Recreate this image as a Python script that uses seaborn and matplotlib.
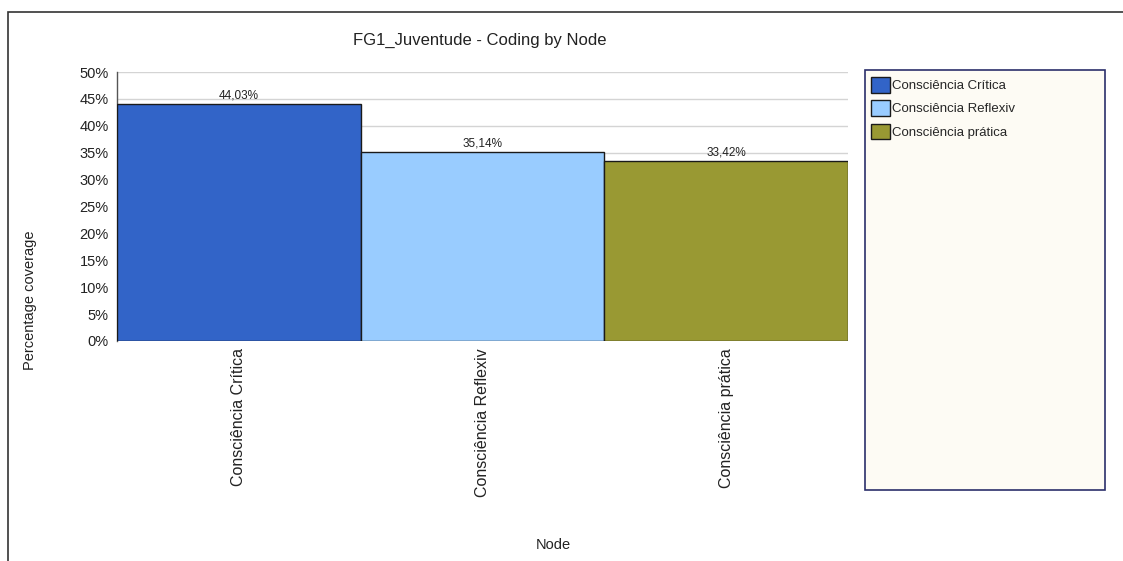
import matplotlib
matplotlib.use("Agg")
import matplotlib.pyplot as plt
from matplotlib.patches import Rectangle, Patch
from matplotlib.ticker import FuncFormatter, MultipleLocator
import seaborn as sns
import pandas as pd

nodes = ["Consciência Crítica", "Consciência Reflexiv", "Consciência prática"]
coverage = [44.03, 35.14, 33.42]
colors = ["#3264C8", "#99CCFF", "#999933"]

sns.set_theme(style="white")
plt.rcParams["font.family"] = ["Liberation Sans", "DejaVu Sans"]

df = pd.DataFrame({"Node": nodes, "Coverage": coverage})

fig = plt.figure(figsize=(11.23, 5.61), dpi=100)
ax = fig.add_axes([117 / 1123, 1 - 341 / 561, (848 - 117) / 1123, (341 - 72) / 561])

sns.barplot(data=df, x="Node", y="Coverage", hue="Node", palette=colors,
            saturation=1, width=1.0, dodge=False, legend=False,
            edgecolor="#1a1a1a", linewidth=1.0, ax=ax, zorder=3)

ax.set_xlim(-0.5, len(nodes) - 0.5)
ax.set_ylim(0, 50)
ax.yaxis.set_major_locator(MultipleLocator(5))
ax.yaxis.set_major_formatter(FuncFormatter(lambda v, _: f"{v:.0f}%"))
ax.grid(axis="y", color="#d4d4d4", linewidth=1.0, zorder=0)
for s in ["top", "right", "bottom"]:
    ax.spines[s].set_visible(False)
ax.spines["left"].set_color("#555555")
ax.spines["left"].set_linewidth(1.0)
ax.tick_params(axis="y", labelsize=10.5, colors="#222222", length=0, pad=6)
ax.tick_params(axis="x", labelsize=11.5, colors="#222222", length=0, pad=5)
plt.setp(ax.get_xticklabels(), rotation=90, va="top", ha="center")
ax.set_xlabel("")
ax.set_ylabel("")

for i, v in enumerate(coverage):
    ax.text(i, v + 0.5, f"{v:.2f}%".replace(".", ","), ha="center", va="bottom",
            fontsize=8.5, color="#222222")

fig.text(480 / 1123, 1 - 40 / 561, "FG1_Juventude - Coding by Node", ha="center",
         va="center", fontsize=12, color="#222222")
fig.text(30 / 1123, 1 - 300 / 561, "Percentage coverage", rotation=90, ha="center",
         va="center", fontsize=10.5, color="#222222")
fig.text(553 / 1123, 1 - 545 / 561, "Node", ha="center", va="center",
         fontsize=10.5, color="#222222")

# outer frame
fig.patches.append(Rectangle((8 / 1123, -0.1), 1.2, 1.1 - 12 / 561,
                             transform=fig.transFigure, fill=False,
                             edgecolor="#333333", linewidth=1.2))

# legend panel
lx0, lx1 = 865 / 1123, 1105 / 1123
ly0, ly1 = 1 - 490 / 561, 1 - 70 / 561
fig.patches.append(Rectangle((lx0, ly0), lx1 - lx0, ly1 - ly0,
                             transform=fig.transFigure, facecolor="#FDFBF4",
                             edgecolor="#2b2f6b", linewidth=1.2))
handles = [Patch(facecolor=c, edgecolor="#1a1a1a", linewidth=1.0) for c in colors]
fig.legend(handles, nodes, loc="upper left", bbox_to_anchor=(lx0 + 0.002, ly1 - 0.006),
           frameon=False, fontsize=9.5, handlelength=1.4, handleheight=1.4,
           handletextpad=0.15, labelspacing=0.6, borderaxespad=0.0,
           borderpad=0.3)

fig.savefig("out.png", dpi=100, facecolor="white")
